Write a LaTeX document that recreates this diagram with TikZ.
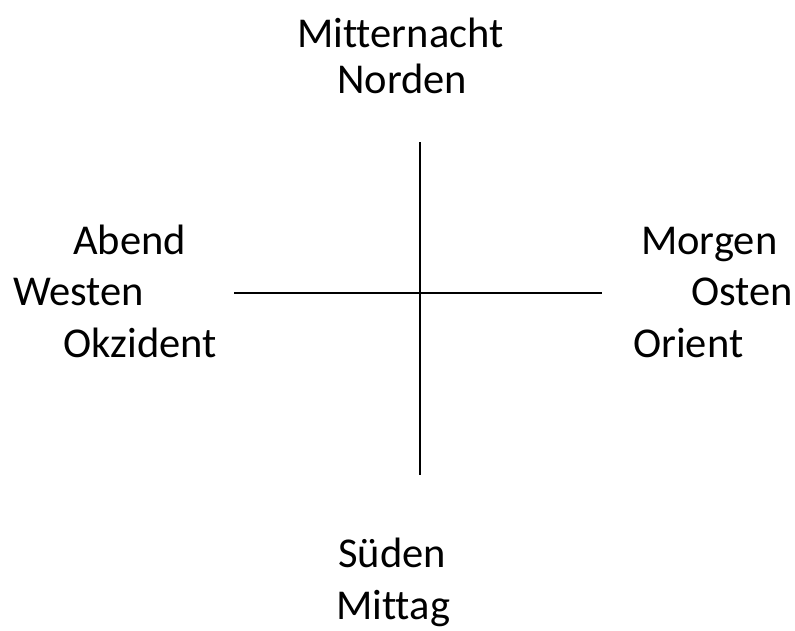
\documentclass[tikz,border=0pt]{standalone}
\usepackage{fontspec}
\setmainfont{Carlito}[Ligatures=NoCommon]
\begin{document}
\begin{tikzpicture}[x=1pt,y=-1pt,
  lbl/.style={anchor=base west,inner sep=0pt,font=\fontsize{42.5}{50}\selectfont},
  axis/.style={line width=1.4pt,black}]
\useasboundingbox (0,0) rectangle (795,630);
% north
\node[lbl] (mitternacht) at (297,47) {Mitternacht};
\node[lbl] (norden) at (337,93) {Norden};
% west
\node[lbl] (abend) at (73,254) {Abend};
\node[lbl] (westen) at (13,305) {Westen};
\node[lbl] (okzident) at (63,357) {Okzident};
% east
\node[lbl] (morgen) at (641,254) {Morgen};
\node[lbl] (osten) at (691,305) {Osten};
\node[lbl] (orient) at (633,357) {Orient};
% south
\node[lbl] (sueden) at (338,567) {Süden};
\node[lbl] (mittag) at (336,619) {Mittag};
% cross
\coordinate (ntop) at (420,142);
\coordinate (sbot) at (420,475);
\coordinate (wend) at (234,293);
\coordinate (eend) at (602,293);
\draw[axis] (ntop) -- (sbot);
\draw[axis] (wend) -- (eend);
\end{tikzpicture}
\end{document}
